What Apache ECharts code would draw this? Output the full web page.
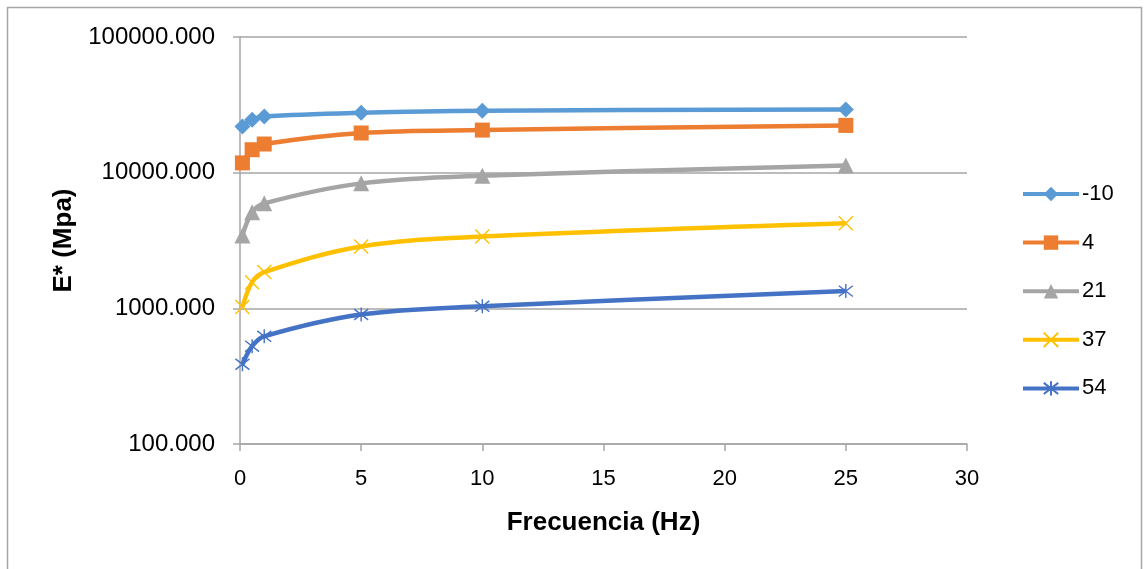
<!DOCTYPE html>
<html>
<head>
<meta charset="utf-8">
<script src="https://cdn.jsdelivr.net/npm/echarts@6/dist/echarts.min.js"></script>
<style>
html,body{margin:0;padding:0;background:#fff;}
#c{width:1146px;height:569px;}
</style>
</head>
<body>
<div id="c"></div>
<script>
// Data
const freq = [0.1, 0.5, 1, 5, 10, 25];
const seriesNames = ['-10', '4', '21', '37', '54'];
const s_m10 = [21900, 24500, 25900, 27600, 28600, 29200];
const s_4 = [11800, 14760, 16260, 19600, 20600, 22300];
const s_21 = [3440, 5100, 5940, 8340, 9500, 11300];
const s_37 = [1022, 1560, 1850, 2860, 3380, 4240];
const s_54 = [387, 526, 622, 900, 1035, 1340];
const yTicks = [100, 1000, 10000, 100000];

const values = [s_m10, s_4, s_21, s_37, s_54];
const colors = ['#5B9BD5', '#ED7D31', '#A5A5A5', '#FFC000', '#4472C4'];
const xPath = 'path://M0,0L10,10M10,0L0,10';
const starPath = 'path://M0,0L10,10M10,0L0,10M5,-1.5L5,11.5';
const symbols = ['diamond', 'rect', 'triangle', xPath, starPath];
const sizes = [16, 15, 16, 14, 14];

const chart = echarts.init(document.getElementById('c'), null, {renderer: 'canvas'});
const FONT = 'Liberation Sans, Arial, sans-serif';

const series = seriesNames.map((n, i) => {
  const stroke = i >= 3;
  return {
    name: n,
    type: 'line',
    smooth: 0.35,
    data: freq.map((x, j) => [x, values[i][j]]),
    symbol: symbols[i],
    symbolSize: sizes[i],
    showSymbol: true,
    lineStyle: {color: colors[i], width: 4.5},
    itemStyle: stroke
      ? {color: 'rgba(0,0,0,0)', borderColor: colors[i], borderWidth: 1.4}
      : {color: colors[i], borderWidth: 0},
    z: 2
  };
});

chart.setOption({
  animation: false,
  backgroundColor: '#fff',
  graphic: [{
    type: 'rect',
    shape: {x: 7.5, y: 7.5, width: 1134, height: 580},
    style: {fill: 'none', stroke: '#A6A6A6', lineWidth: 1.5},
    silent: true, z: -10
  }],
  grid: {left: 240, right: 179, top: 37, bottom: 125},
  legend: {
    orient: 'vertical',
    left: 1016,
    top: 178,
    itemWidth: 56,
    itemHeight: 18,
    itemGap: 26.6,
    lineStyle: {width: 4},
    textStyle: {fontFamily: FONT, fontSize: 22, color: '#000', padding: [0, 0, 0, -2]},
    data: seriesNames
  },
  xAxis: {
    type: 'value',
    min: 0, max: 30, interval: 5,
    name: 'Frecuencia (Hz)',
    nameLocation: 'middle',
    nameGap: 66,
    nameTextStyle: {fontFamily: FONT, fontSize: 26, fontWeight: 'bold', color: '#000'},
    axisLine: {show: true, onZero: false, lineStyle: {color: '#A6A6A6', width: 1.5}},
    axisTick: {show: true, length: 7, lineStyle: {color: '#A6A6A6', width: 1.5}},
    axisLabel: {fontFamily: FONT, fontSize: 22, color: '#000', margin: 24},
    splitLine: {show: false}
  },
  yAxis: {
    type: 'log',
    logBase: 10,
    min: yTicks[0], max: yTicks[yTicks.length - 1],
    name: 'E* (Mpa)',
    nameLocation: 'middle',
    nameGap: 158,
    nameRotate: 90,
    nameTextStyle: {fontFamily: FONT, fontSize: 26, fontWeight: 'bold', color: '#000'},
    axisLine: {show: true, lineStyle: {color: '#A6A6A6', width: 1.5}},
    axisTick: {show: true, length: 7, lineStyle: {color: '#A6A6A6', width: 1.5}},
    axisLabel: {fontFamily: FONT, fontSize: 24, color: '#000', margin: 25,
      formatter: v => Number(v).toFixed(3)},
    splitLine: {show: true, lineStyle: {color: '#A6A6A6', width: 1.5}},
    minorTick: {show: false}
  },
  series: series
});
</script>
</body>
</html>
